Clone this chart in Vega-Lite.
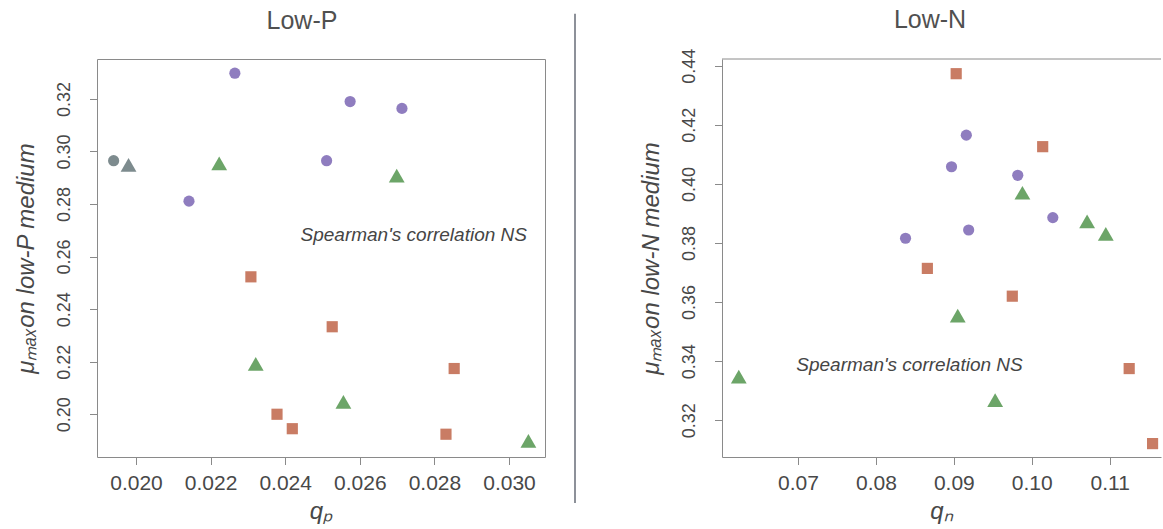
{
  "$schema": "https://vega.github.io/schema/vega-lite/v6.json",
  "padding": {"left": 14, "top": 8, "right": 0, "bottom": 0},
  "spacing": 28,
  "background": "white",
  "config": {
    "font": "Liberation Sans",
    "view": {"stroke": "#8a8a8a", "strokeWidth": 1},
    "axis": {
      "grid": false,
      "domainColor": "#8a8a8a",
      "tickColor": "#8a8a8a",
      "tickSize": 7.5,
      "labelColor": "#484848",
      "titleColor": "#484848",
      "labelFont": "Liberation Sans",
      "titleFont": "Liberation Sans",
      "titleFontWeight": "normal",
      "titleFontStyle": "italic",
      "labelOverlap": false,
      "labelFlush": false
    },
    "axisX": {"labelFontSize": 21, "labelPadding": 8, "titleFontSize": 24, "titlePadding": 6, "domain": false},
    "axisY": {"labelFontSize": 18, "labelAngle": 270, "labelAlign": "center", "labelBaseline": "bottom", "labelPadding": 16, "titleFontSize": 24, "titlePadding": 17, "domain": false},
    "title": {"fontSize": 25, "fontWeight": "normal", "color": "#505050", "baseline": "alphabetic", "frame": "group"}
  },
  "datasets": {
    "lowP": [
      {"qP": 0.01940, "mu": 0.2965, "lineage": "L1", "group": "ancestral"},
      {"qP": 0.01980, "mu": 0.2949, "lineage": "L2", "group": "ancestral"},
      {"qP": 0.02265, "mu": 0.3298, "lineage": "L1", "group": "L1"},
      {"qP": 0.02574, "mu": 0.3190, "lineage": "L1", "group": "L1"},
      {"qP": 0.02713, "mu": 0.3164, "lineage": "L1", "group": "L1"},
      {"qP": 0.02511, "mu": 0.2965, "lineage": "L1", "group": "L1"},
      {"qP": 0.02142, "mu": 0.2811, "lineage": "L1", "group": "L1"},
      {"qP": 0.02223, "mu": 0.2955, "lineage": "L2", "group": "L2"},
      {"qP": 0.02699, "mu": 0.2908, "lineage": "L2", "group": "L2"},
      {"qP": 0.02321, "mu": 0.2192, "lineage": "L2", "group": "L2"},
      {"qP": 0.02556, "mu": 0.2047, "lineage": "L2", "group": "L2"},
      {"qP": 0.03052, "mu": 0.1899, "lineage": "L2", "group": "L2"},
      {"qP": 0.02308, "mu": 0.2523, "lineage": "L3", "group": "L3"},
      {"qP": 0.02526, "mu": 0.2333, "lineage": "L3", "group": "L3"},
      {"qP": 0.02853, "mu": 0.2174, "lineage": "L3", "group": "L3"},
      {"qP": 0.02378, "mu": 0.2000, "lineage": "L3", "group": "L3"},
      {"qP": 0.02419, "mu": 0.1945, "lineage": "L3", "group": "L3"},
      {"qP": 0.02831, "mu": 0.1924, "lineage": "L3", "group": "L3"}
    ],
    "lowN": [
      {"qN": 0.0903, "mu": 0.4373, "lineage": "L3", "group": "L3"},
      {"qN": 0.1014, "mu": 0.4126, "lineage": "L3", "group": "L3"},
      {"qN": 0.0866, "mu": 0.3714, "lineage": "L3", "group": "L3"},
      {"qN": 0.0975, "mu": 0.3620, "lineage": "L3", "group": "L3"},
      {"qN": 0.1125, "mu": 0.3375, "lineage": "L3", "group": "L3"},
      {"qN": 0.1155, "mu": 0.3121, "lineage": "L3", "group": "L3"},
      {"qN": 0.0916, "mu": 0.4165, "lineage": "L1", "group": "L1"},
      {"qN": 0.0897, "mu": 0.4058, "lineage": "L1", "group": "L1"},
      {"qN": 0.0982, "mu": 0.4029, "lineage": "L1", "group": "L1"},
      {"qN": 0.1027, "mu": 0.3886, "lineage": "L1", "group": "L1"},
      {"qN": 0.0919, "mu": 0.3844, "lineage": "L1", "group": "L1"},
      {"qN": 0.0838, "mu": 0.3816, "lineage": "L1", "group": "L1"},
      {"qN": 0.0988, "mu": 0.3970, "lineage": "L2", "group": "L2"},
      {"qN": 0.1071, "mu": 0.3873, "lineage": "L2", "group": "L2"},
      {"qN": 0.1095, "mu": 0.3831, "lineage": "L2", "group": "L2"},
      {"qN": 0.0905, "mu": 0.3554, "lineage": "L2", "group": "L2"},
      {"qN": 0.0624, "mu": 0.3348, "lineage": "L2", "group": "L2"},
      {"qN": 0.0953, "mu": 0.3268, "lineage": "L2", "group": "L2"}
    ]
  },
  "hconcat": [
    {
      "width": 448,
      "height": 398,
      "title": {"text": "Low-P", "dx": -19, "offset": 25},
      "layer": [
        {
          "data": {"name": "lowP"},
          "mark": {"type": "point", "filled": true, "opacity": 1},
          "encoding": {
            "x": {
              "field": "qP", "type": "quantitative",
              "scale": {"domain": [0.018954, 0.030965], "nice": false, "zero": false},
              "axis": {"values": [0.020, 0.022, 0.024, 0.026, 0.028, 0.030], "format": ".3f", "title": "qₚ"}
            },
            "y": {
              "field": "mu", "type": "quantitative",
              "scale": {"domain": [0.18373, 0.3352], "nice": false, "zero": false},
              "axis": {"values": [0.20, 0.22, 0.24, 0.26, 0.28, 0.30, 0.32], "format": ".2f", "title": "μₘₐₓon low-P medium"}
            },
            "shape": {"field": "lineage", "type": "nominal", "scale": {"type": "ordinal", "domain": ["L1", "L2", "L3"], "range": ["circle", "triangle-up", "square"]}, "legend": null},
            "size": {"field": "lineage", "type": "nominal", "scale": {"type": "ordinal", "domain": ["L1", "L2", "L3"], "range": [125, 250, 125]}, "legend": null},
            "color": {"field": "group", "type": "nominal", "scale": {"domain": ["L1", "L2", "L3", "ancestral"], "range": ["#8f7dbf", "#6ca568", "#c97c64", "#7d8b8e"]}, "legend": null}
          }
        },
        {
          "data": {"values": [{}]},
          "mark": {"type": "text", "text": "Spearman's correlation NS", "font": "Liberation Sans", "fontStyle": "italic", "fontSize": 19, "align": "left", "baseline": "alphabetic", "color": "#454545"},
          "encoding": {"x": {"datum": 0.02441}, "y": {"datum": 0.26602}}
        }
      ]
    },
    {
      "width": 36,
      "height": 398,
      "data": {"values": [{}]},
      "view": {"stroke": null},
      "mark": {"type": "rule", "color": "#8d9199", "strokeWidth": 2, "clip": false},
      "encoding": {
        "x": {"datum": 0, "type": "quantitative", "scale": {"domain": [0, 1]}, "axis": null},
        "y": {"datum": -0.1157, "type": "quantitative", "scale": {"domain": [0, 1], "nice": false, "zero": false}, "axis": null},
        "y2": {"datum": 1.1139}
      }
    },
    {
      "width": 439,
      "height": 398,
      "title": {"text": "Low-N", "dx": -11.5, "offset": 15},
      "view": {"stroke": null},
      "layer": [
        {
          "data": {"name": "lowN"},
          "mark": {"type": "point", "filled": true, "opacity": 1},
          "encoding": {
            "x": {
              "field": "qN", "type": "quantitative",
              "scale": {"domain": [0.060247, 0.116583], "nice": false, "zero": false},
              "axis": {"values": [0.07, 0.08, 0.09, 0.10, 0.11], "format": ".2f", "title": "qₙ", "domain": true}
            },
            "y": {
              "field": "mu", "type": "quantitative",
              "scale": {"domain": [0.30757, 0.44227], "nice": false, "zero": false},
              "axis": {"values": [0.32, 0.34, 0.36, 0.38, 0.40, 0.42, 0.44], "format": ".2f", "title": "μₘₐₓon low-N medium", "domain": true}
            },
            "shape": {"field": "lineage", "type": "nominal", "scale": {"type": "ordinal", "domain": ["L1", "L2", "L3"], "range": ["circle", "triangle-up", "square"]}, "legend": null},
            "size": {"field": "lineage", "type": "nominal", "scale": {"type": "ordinal", "domain": ["L1", "L2", "L3"], "range": [125, 250, 125]}, "legend": null},
            "color": {"field": "group", "type": "nominal", "scale": {"domain": ["L1", "L2", "L3", "ancestral"], "range": ["#8f7dbf", "#6ca568", "#c97c64", "#7d8b8e"]}, "legend": null}
          }
        },
        {
          "data": {"values": [{}]},
          "mark": {"type": "rule", "color": "#8a8a8a", "strokeWidth": 1},
          "encoding": {"y": {"datum": 0.44227}}
        },
        {
          "data": {"values": [{}]},
          "mark": {"type": "text", "text": "Spearman's correlation NS", "font": "Liberation Sans", "fontStyle": "italic", "fontSize": 19, "align": "left", "baseline": "alphabetic", "color": "#454545"},
          "encoding": {"x": {"datum": 0.06978}, "y": {"datum": 0.3367}}
        }
      ]
    }
  ]
}
